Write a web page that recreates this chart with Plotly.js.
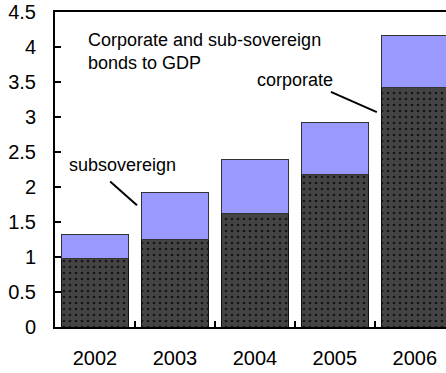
<!DOCTYPE html>
<html>
<head>
<meta charset="utf-8">
<script src="https://cdn.plot.ly/plotly-3.0.1.min.js"></script>
<style>html,body{margin:0;padding:0;background:#fff;}#chart{width:446px;height:373px;}</style>
</head>
<body>
<div id="chart"></div>
<script>
var years = ['2002', '2003', '2004', '2005', '2006'];
var corporate = [0.98, 1.25, 1.62, 2.18, 3.42];
var subsovereign = [0.34, 0.67, 0.78, 0.74, 0.74];
var yTicks = [0, 0.5, 1, 1.5, 2, 2.5, 3, 3.5, 4, 4.5];
var yTickLabels = ['0', '0.5', '1', '1.5', '2', '2.5', '3', '3.5', '4', '4.5'];

var fam = 'Arial, "Liberation Sans", sans-serif';
var tickFont = {family: fam, size: 20, color: '#000'};
var noteFont = {family: fam, size: 18, color: '#000'};

var traces = [
  {
    type: 'bar', x: years, y: corporate, name: 'corporate',
    marker: {
      color: '#404040',
      line: {color: '#111', width: 1},
      pattern: {shape: '.', bgcolor: '#444444', fgcolor: '#151515', size: 6, solidity: 0.16, fillmode: 'replace'}
    },
    hoverinfo: 'none'
  },
  {
    type: 'bar', x: years, y: subsovereign, name: 'subsovereign',
    marker: {color: '#9999FF', line: {color: '#333', width: 1}},
    hoverinfo: 'none'
  }
];

var layout = {
  width: 446, height: 373,
  margin: {l: 55, r: 0, t: 12, b: 46, pad: 0},
  paper_bgcolor: '#fff', plot_bgcolor: '#fff',
  barmode: 'stack', bargap: 0.16,
  showlegend: false,
  font: tickFont,
  xaxis: {
    type: 'category', range: [-0.5, 4.39],
    showline: true, linecolor: '#000', linewidth: 2, mirror: true,
    ticks: 'inside', tickson: 'boundaries', ticklen: 6, tickwidth: 1.5, tickcolor: '#000',
    showgrid: false, zeroline: false,
    tickfont: tickFont, ticklabelstandoff: 12
  },
  yaxis: {
    range: [0, 4.5],
    tickvals: yTicks, ticktext: yTickLabels,
    showline: true, linecolor: '#000', linewidth: 2, mirror: false,
    ticks: 'inside', ticklen: 6, tickwidth: 1.5, tickcolor: '#000',
    showgrid: false, zeroline: false,
    tickfont: tickFont, ticklabelstandoff: 13
  },
  annotations: [
    {x: -0.11, y: 3.93, xref: 'x', yref: 'y', xanchor: 'left', yanchor: 'middle', align: 'left',
     text: 'Corporate and sub-sovereign<br>bonds to GDP', showarrow: false, font: noteFont},
    {x: 3.0, y: 3.53, xref: 'x', yref: 'y', xanchor: 'right', yanchor: 'middle',
     text: 'corporate', showarrow: false, font: noteFont},
    {x: -0.35, y: 2.31, xref: 'x', yref: 'y', xanchor: 'left', yanchor: 'middle',
     text: 'subsovereign', showarrow: false, font: noteFont}
  ],
  shapes: [
    {type: 'line', xref: 'x', yref: 'y', x0: 2.95, y0: 3.36, x1: 3.525, y1: 3.07, line: {color: '#000', width: 2}},
    {type: 'line', xref: 'x', yref: 'y', x0: 0.19, y0: 2.08, x1: 0.525, y1: 1.74, line: {color: '#000', width: 2}}
  ]
};

Plotly.newPlot('chart', traces, layout, {staticPlot: true, displayModeBar: false});
</script>
</body>
</html>
